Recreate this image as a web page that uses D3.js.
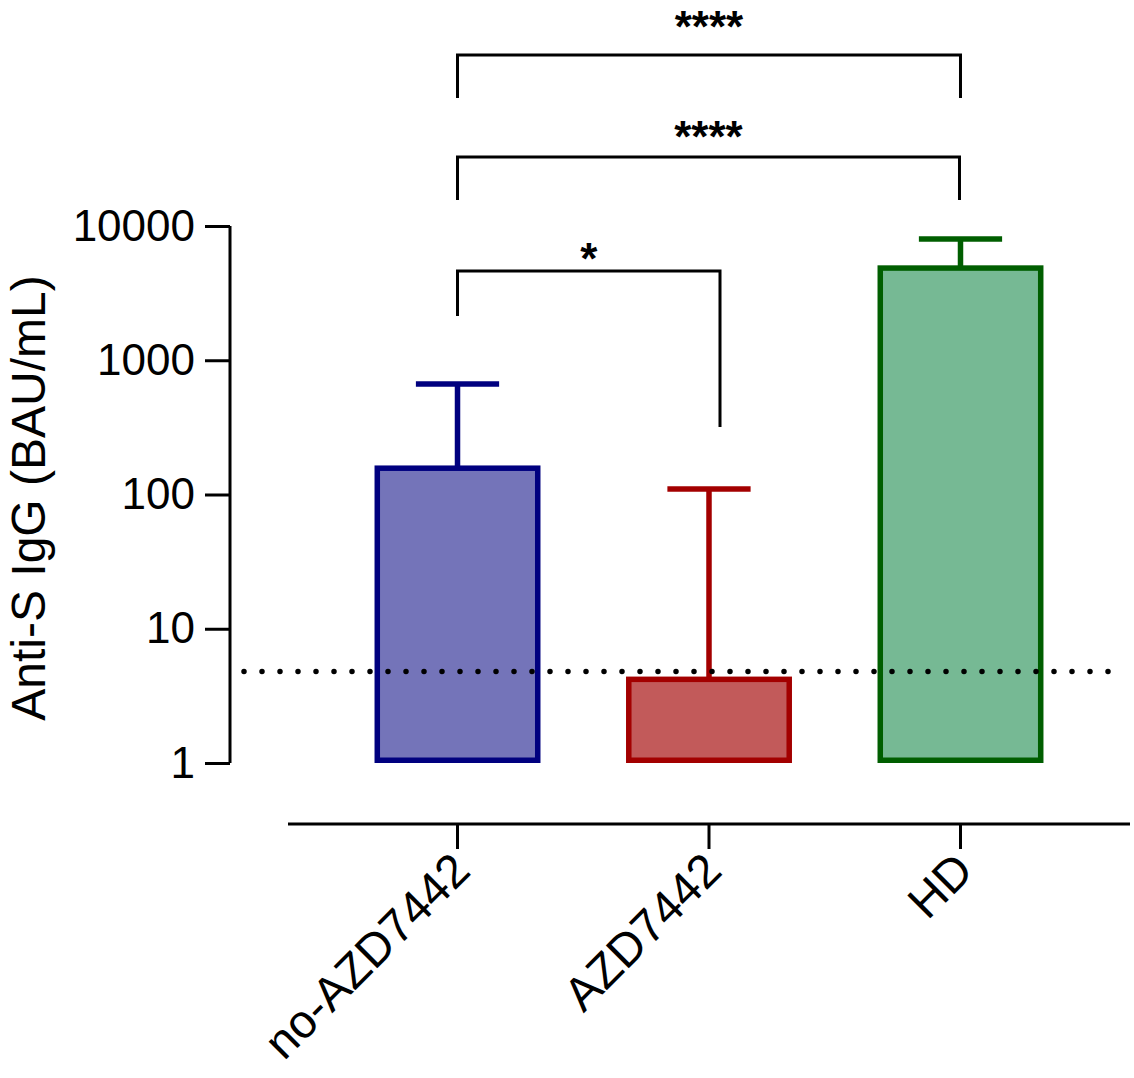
<!DOCTYPE html>
<html>
<head>
<meta charset="utf-8">
<script src="https://cdn.jsdelivr.net/npm/d3@7"></script>
<style>
  html, body { margin: 0; padding: 0; background: #fff; }
  svg text { font-family: Arial, "Liberation Sans", Helvetica, sans-serif; fill: #000; }
</style>
</head>
<body>
<svg id="chart" width="1134" height="1078"></svg>
<script>
(function () {
  // data
  const groups = ['no-AZD7442', 'AZD7442', 'HD'];
  const means = [157, 4.2, 4860];
  const upper = [665, 110, 8000];       // mean + SD
  const fills = ['#7474b9', '#c25a5a', '#76b994'];
  const strokes = ['#00007f', '#a30000', '#005e00'];
  const yTicks = [1, 10, 100, 1000, 10000];
  const threshold = 4.8;
  // significance brackets: [from, to, label]
  const comparisons = [
    ['no-AZD7442', 'HD', '****'],
    ['no-AZD7442', 'HD', '****'],
    ['no-AZD7442', 'AZD7442', '*']
  ];

  // bracket geometry (pixels), same order as comparisons
  const bracketLayout = [
    { y: 55, leftDrop: 98, rightDrop: 98, dx2: 0, textY: 42 },
    { y: 157, leftDrop: 200, rightDrop: 200, dx2: -1, textY: 152 },
    { y: 271, leftDrop: 316, rightDrop: 427, dx2: 11, textY: 274 }
  ];

  const svg = d3.select('#chart');

  const y = d3.scaleLog().domain([1, 10000]).range([763, 226]);
  const x = d3.scaleBand().domain(groups).range([288, 1130])
    .paddingInner(0).paddingOuter(0.174);
  const barW = x.bandwidth() * 0.638;
  const cx = d => x(d) + x.bandwidth() / 2;

  // y axis
  const yAxis = svg.append('g').attr('transform', 'translate(230,0)')
    .call(d3.axisLeft(y).tickValues(yTicks).tickFormat(d3.format('d')).tickSize(25).tickPadding(10));
  yAxis.select('.domain').attr('stroke-width', 3).attr('d', `M0,${y(10000)}V${y(1)}`);
  yAxis.selectAll('.tick line').attr('stroke-width', 3);
  yAxis.selectAll('.tick text').attr('font-size', 44).attr('font-family', 'Arial, "Liberation Sans", sans-serif');

  svg.append('text')
    .attr('transform', `translate(45,498) rotate(-90)`)
    .attr('text-anchor', 'middle')
    .attr('font-size', 48)
    .text('Anti-S IgG (BAU/mL)');

  // x axis (offset below)
  const xAxis = svg.append('g').attr('transform', 'translate(0,824)')
    .call(d3.axisBottom(x).tickSize(25).tickFormat(''));
  xAxis.select('.domain').attr('stroke-width', 3).attr('d', 'M288,0H1130');
  xAxis.selectAll('.tick line').attr('stroke-width', 3);

  svg.append('g').selectAll('text').data(groups).join('text')
    .attr('transform', d => `translate(${cx(d) + 15},${873}) rotate(-45)`)
    .attr('text-anchor', 'end')
    .attr('font-size', 47)
    .text(d => d);

  // error bars
  const err = svg.append('g').selectAll('g').data(groups).join('g');
  err.append('line')
    .attr('x1', d => cx(d)).attr('x2', d => cx(d))
    .attr('y1', (d, i) => y(means[i])).attr('y2', (d, i) => y(upper[i]))
    .attr('stroke', (d, i) => strokes[i]).attr('stroke-width', 5.5);
  err.append('line')
    .attr('x1', d => cx(d) - barW / 4 - 1.5).attr('x2', d => cx(d) + barW / 4 + 1.5)
    .attr('y1', (d, i) => y(upper[i])).attr('y2', (d, i) => y(upper[i]))
    .attr('stroke', (d, i) => strokes[i]).attr('stroke-width', 5.5);

  // bars
  svg.append('g').selectAll('rect').data(groups).join('rect')
    .attr('x', d => cx(d) - barW / 2)
    .attr('width', barW)
    .attr('y', (d, i) => y(means[i]))
    .attr('height', (d, i) => y(1) - 2.75 - y(means[i]))
    .attr('fill', (d, i) => fills[i])
    .attr('stroke', (d, i) => strokes[i])
    .attr('stroke-width', 5.5);

  // detection threshold
  svg.append('line')
    .attr('x1', 244).attr('x2', 1114)
    .attr('y1', y(threshold)).attr('y2', y(threshold))
    .attr('stroke', '#000')
    .attr('stroke-width', 5.5)
    .attr('stroke-linecap', 'round')
    .attr('stroke-dasharray', '0 18');

  // significance brackets
  const br = svg.append('g').selectAll('g').data(comparisons).join('g');
  br.append('path')
    .attr('fill', 'none').attr('stroke', '#000').attr('stroke-width', 3)
    .attr('d', (c, i) => {
      const L = bracketLayout[i];
      const x1 = cx(c[0]), x2 = cx(c[1]) + L.dx2;
      return `M${x1},${L.leftDrop}V${L.y}H${x2}V${L.rightDrop}`;
    });
  br.append('text')
    .attr('x', (c, i) => (cx(c[0]) + cx(c[1]) + bracketLayout[i].dx2) / 2)
    .attr('y', (c, i) => bracketLayout[i].textY)
    .attr('text-anchor', 'middle')
    .attr('font-size', 44)
    .attr('font-weight', 'bold')
    .text(c => c[2]);
})();
</script>
</body>
</html>
